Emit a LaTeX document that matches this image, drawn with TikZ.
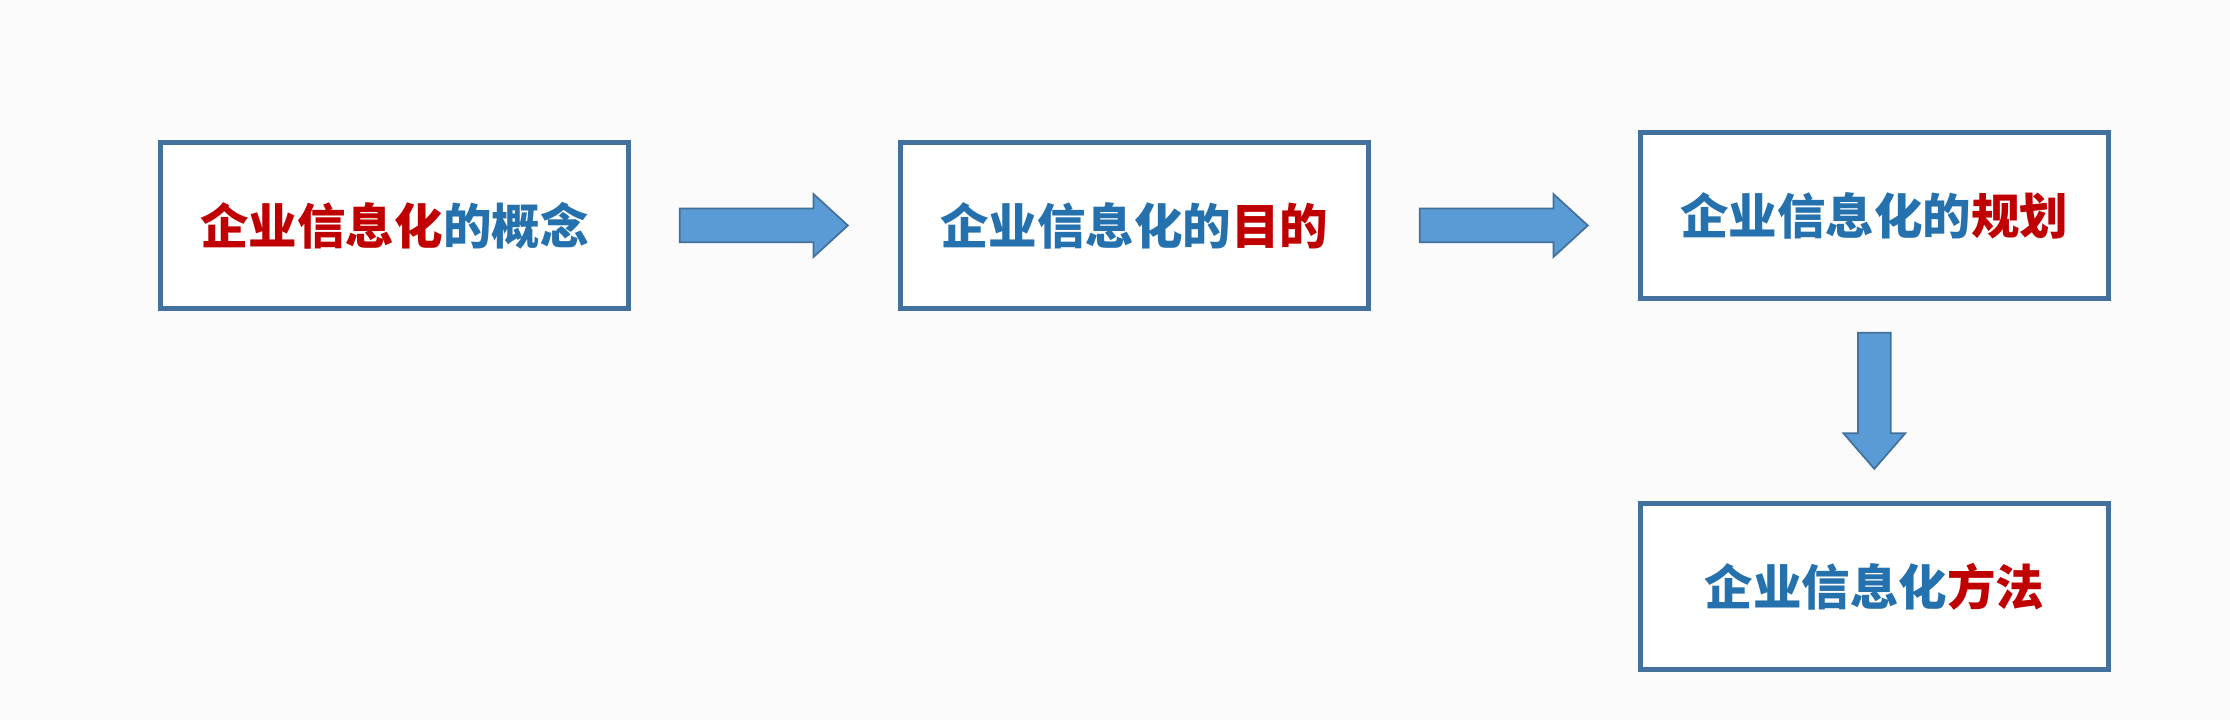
\documentclass[tikz,border=0pt]{standalone}
\usepackage{fontspec}
\newfontfamily\cjk{Noto Sans CJK SC}
\usetikzlibrary{positioning,shapes.arrows}
\definecolor{boxline}{RGB}{65,113,156}
\definecolor{arrowfill}{RGB}{91,155,213}
\definecolor{hired}{RGB}{192,0,0}
\definecolor{loblue}{RGB}{36,113,174}
\definecolor{paper}{RGB}{251,251,251}

\begin{document}
\begin{tikzpicture}[
  box/.style={draw=boxline, line width=1.4pt, fill=white, minimum width=4.68cm,
    minimum height=1.66cm, inner sep=0pt,
    font=\cjk\bfseries\fontsize{13.8pt}{16pt}\selectfont},
  blockarrow/.style={single arrow, draw=boxline, line width=0.5pt, fill=arrowfill,
    inner xsep=0pt, inner ysep=0.16cm, single arrow head extend=0.145cm,
    single arrow tip angle=85, minimum height=1.68cm}]
\fill[paper] (0,0) rectangle (22.3,-7.2);
\useasboundingbox (0,0) rectangle (22.3,-7.2);
\node[box] (concept) at (3.945,-2.255) {\textcolor{hired}{企业信息化}\textcolor{loblue}{的概念}};
\node[box, right=2.67cm of concept] (goal) {\textcolor{loblue}{企业信息化的}\textcolor{hired}{目的}};
\node[box, right=2.67cm of goal, yshift=0.1cm] (plan) {\textcolor{loblue}{企业信息化的}\textcolor{hired}{规划}};
\node[box, below=2.0cm of plan] (method) {\textcolor{loblue}{企业信息化}\textcolor{hired}{方法}};
\node[blockarrow, right=0.48cm of concept] (arrowA) {};
\node[blockarrow, right=0.48cm of goal] (arrowB) {};
\node[blockarrow, shape border rotate=270, inner xsep=0.155cm, inner ysep=0pt,
  minimum height=1.36cm, single arrow tip angle=82, below=0.31cm of plan] (arrowC) {};
\end{tikzpicture}
\end{document}
